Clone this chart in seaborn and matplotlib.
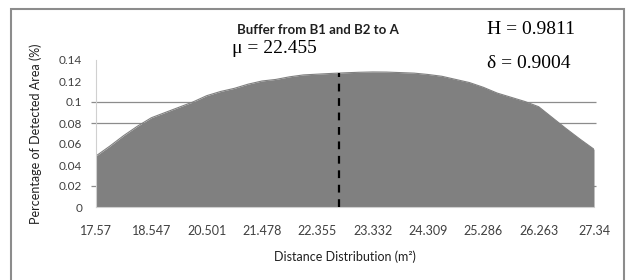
import numpy as np
import pandas as pd
import matplotlib
matplotlib.use("Agg")
import matplotlib.pyplot as plt
import matplotlib.transforms as mtransforms
from matplotlib.patches import Rectangle
import seaborn as sns

# bins are evenly spaced, a tick label every 4 bins
tick_labels = ["17.57", "18.547", "20.501", "21.478", "22.355",
               "23.332", "24.309", "25.286", "26.263", "27.34"]
bins_per_tick = 4
share = [0.0486, 0.058, 0.068, 0.077, 0.085, 0.090, 0.095, 0.100, 0.106,
         0.110, 0.113, 0.117, 0.120, 0.1215, 0.124, 0.1258, 0.1265, 0.1272,
         0.1278, 0.1283, 0.1286, 0.1285, 0.1280, 0.1275, 0.1262, 0.1245,
         0.1215, 0.1185, 0.1140, 0.1085, 0.1045, 0.1005, 0.0955, 0.0850,
         0.0745, 0.0645, 0.0550]
mu_bin = 17.6
mu_text = "μ = 22.455"
h_text = "H = 0.9811"
delta_text = "δ = 0.9004"
grid_levels = [0.02, 0.08, 0.1]
y_ticks = [0, 0.02, 0.04, 0.06, 0.08, 0.1, 0.12, 0.14]


def main():
    sns.set_style("white")
    plt.rcParams["font.family"] = ["Lato", "DejaVu Sans"]

    df = pd.DataFrame({"bin": np.arange(len(share)), "share": share})

    fig = plt.figure(figsize=(6.28, 2.80), dpi=100)
    ax = fig.add_axes([96 / 628, 1 - 207 / 280, 498 / 628, 147 / 280])

    # gridlines (only some survive in the original), slightly past the axis
    trans = mtransforms.blended_transform_factory(ax.transAxes, ax.transData)
    ax.hlines(grid_levels, -0.01, 1.004, colors="#8c8c8c", linewidth=0.9,
              transform=trans, zorder=0, clip_on=False)

    ax.fill_between(df["bin"], df["share"], color="#808080", lw=0, zorder=1)
    sns.lineplot(data=df, x="bin", y="share", ax=ax, color="#808080",
                 linewidth=0.8, zorder=2)

    mu_top = np.interp(mu_bin, df["bin"], df["share"])
    ax.vlines(mu_bin, 0, mu_top, colors="black", linestyles=(0, (3.5, 3)),
              linewidth=1.6, zorder=3)

    ax.set_xlim(0, len(share) - 1)
    ax.set_ylim(0, 0.14)
    ax.set_xticks(np.arange(len(tick_labels)) * bins_per_tick)
    ax.set_xticklabels(tick_labels)
    ax.set_yticks(y_ticks)
    ax.set_yticklabels(["0" if v == 0 else f"{v:g}" for v in y_ticks])
    ax.tick_params(axis="x", length=5, width=1, color="#d0d0d0",
                   labelsize=9, labelcolor="#404040", pad=8)
    ax.tick_params(axis="y", length=0, labelsize=8.5, labelcolor="#404040",
                   pad=10)

    for side in ["top", "right"]:
        ax.spines[side].set_visible(False)
    ax.spines["left"].set_color("#d0d0d0")
    ax.spines["bottom"].set_color("#d0d0d0")

    ax.set_xlabel("Distance Distribution (m²)", fontsize=9, color="#202020",
                  labelpad=10)
    ax.set_ylabel("Percentage of Detected Area (%)", fontsize=9,
                  color="#202020", labelpad=12)

    fig.text(318 / 628, 1 - 30 / 280, "Buffer from B1 and B2 to A",
             ha="center", va="center", fontsize=9.5, fontweight="bold",
             color="#202020")
    serif = ["Liberation Serif", "DejaVu Serif"]
    fig.text(232 / 628, 1 - 48 / 280, mu_text, ha="left", va="center",
             fontsize=14, family=serif, color="black")
    fig.text(487 / 628, 1 - 30 / 280, h_text, ha="left", va="center",
             fontsize=14, family=serif, color="black")
    fig.text(487 / 628, 1 - 64 / 280, delta_text, ha="left", va="center",
             fontsize=14, family=serif, color="black")

    # outer chart frame
    fig.patches.append(Rectangle((11 / 628, -0.1), 613 / 628, 1.1 - 9 / 280,
                                 transform=fig.transFigure, fill=False,
                                 edgecolor="#8c8c8c", linewidth=1.5))

    fig.savefig("out.png", dpi=100)


if __name__ == "__main__":
    main()
